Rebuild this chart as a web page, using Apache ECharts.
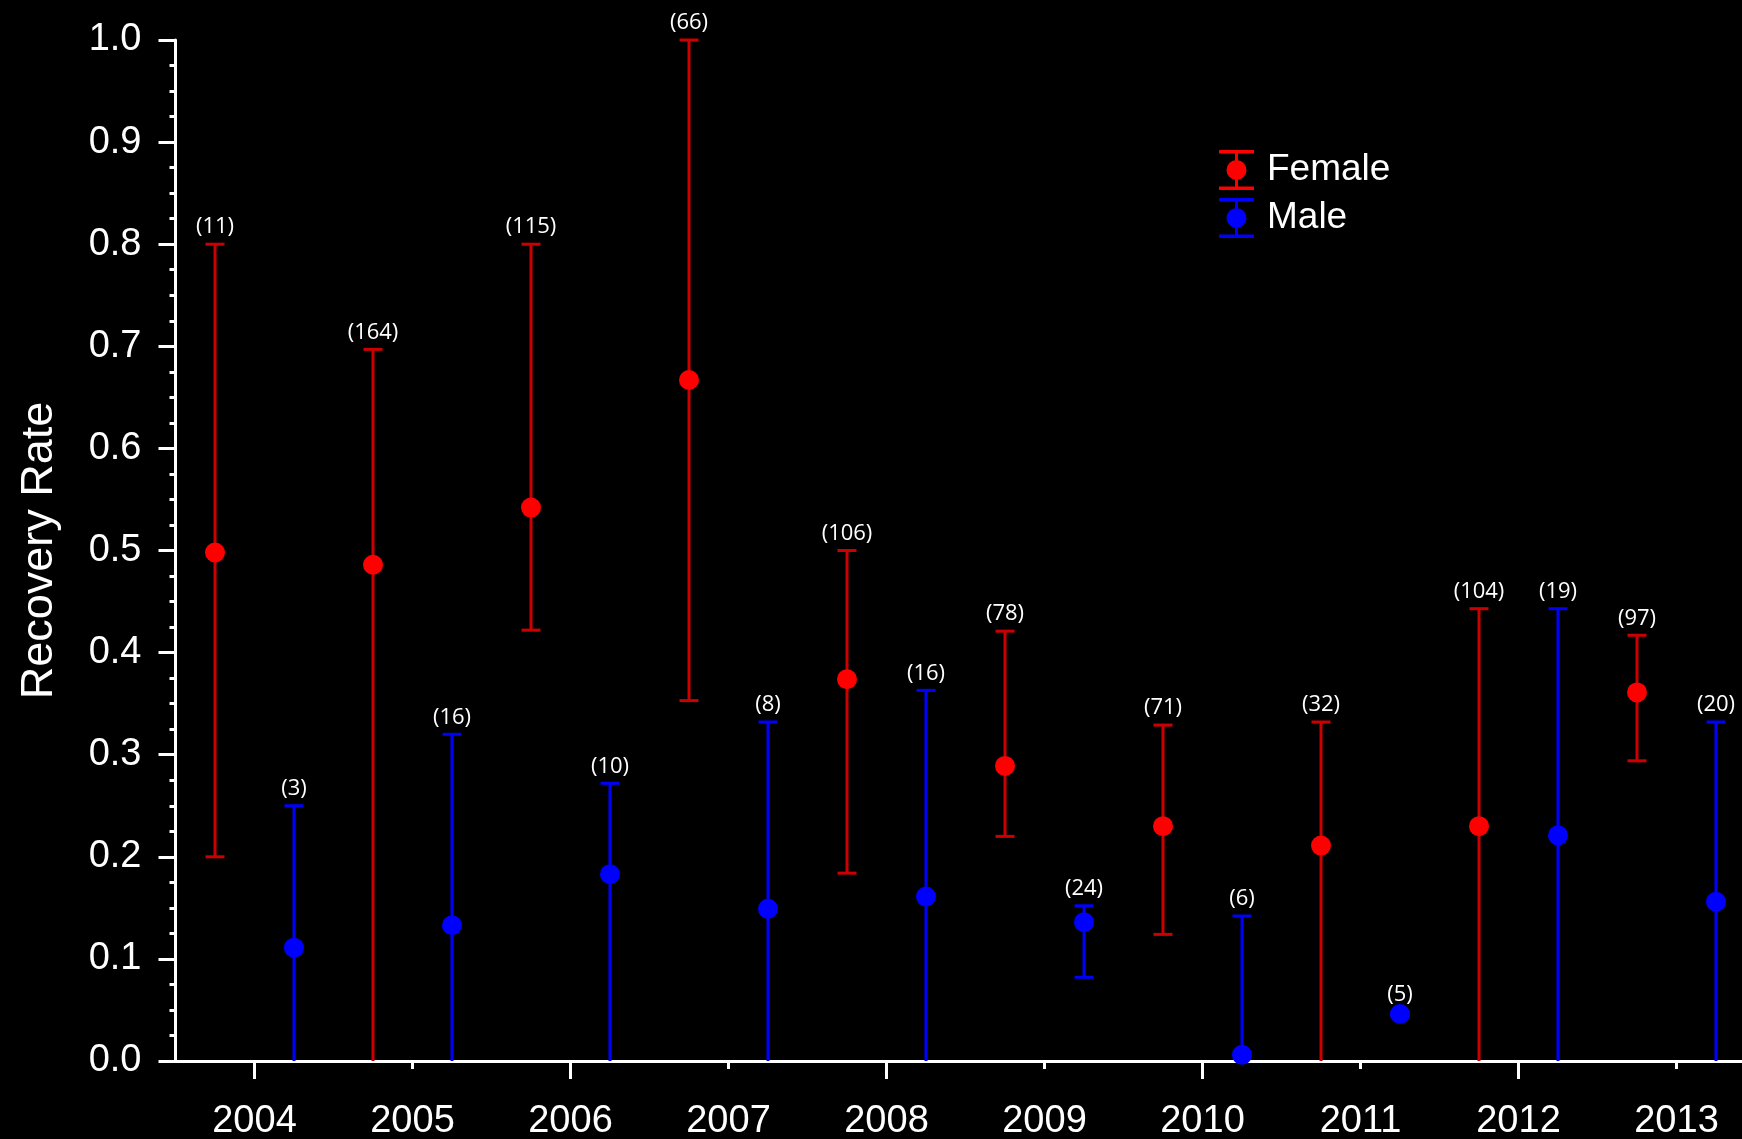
<!DOCTYPE html>
<html>
<head>
<meta charset="utf-8">
<style>
html,body{margin:0;padding:0;background:#000;}
#chart{width:1742px;height:1139px;}
</style>
<script src="https://cdn.jsdelivr.net/npm/echarts@6/dist/echarts.min.js"></script>
</head>
<body>
<div id="chart"></div>
<script>
// ---- data ----
var years = ['2004','2005','2006','2007','2008','2009','2010','2011','2012','2013'];
var femaleRate = [0.498, 0.486, 0.542, 0.667, 0.374, 0.289, 0.230, 0.211, 0.230, 0.361];
var femaleLow  = [0.200, 0.000, 0.422, 0.353, 0.184, 0.220, 0.124, 0.000, 0.000, 0.294];
var femaleHigh = [0.800, 0.697, 0.800, 1.000, 0.500, 0.421, 0.329, 0.332, 0.443, 0.417];
var femaleN    = [11, 164, 115, 66, 106, 78, 71, 32, 104, 97];
var maleRate = [0.111, 0.133, 0.183, 0.149, 0.161, 0.136, 0.006, 0.046, 0.221, 0.156];
var maleLow  = [0.000, 0.000, 0.000, 0.000, 0.000, 0.082, 0.000, 0.044, 0.000, 0.000];
var maleHigh = [0.250, 0.320, 0.272, 0.332, 0.363, 0.152, 0.142, 0.048, 0.443, 0.332];
var maleN    = [3, 16, 10, 8, 16, 24, 6, 5, 19, 20];
var yTicks = [0, 0.1, 0.2, 0.3, 0.4, 0.5, 0.6, 0.7, 0.8, 0.9, 1.0];

var FEMALE_OFFSET = -0.25, MALE_OFFSET = 0.25;

function build(rate, low, high, n, off) {
  var pts = [], bars = [];
  for (var i = 0; i < years.length; i++) {
    var x = Number(years[i]) + off;
    pts.push([x, rate[i]]);
    bars.push([x, low[i], high[i], n[i]]);
  }
  return {pts: pts, bars: bars};
}
var F = build(femaleRate, femaleLow, femaleHigh, femaleN, FEMALE_OFFSET);
var M = build(maleRate, maleLow, maleHigh, maleN, MALE_OFFSET);

function errRender(color) {
  return function (params, api) {
    var x = api.value(0), lo = api.value(1), hi = api.value(2), n = api.value(3);
    var pLo = api.coord([x, lo]), pHi = api.coord([x, hi]);
    var cw = 9.5;
    var st = {stroke: color, lineWidth: 3};
    var children = [
      {type: 'line', shape: {x1: pHi[0], y1: pHi[1], x2: pLo[0], y2: pLo[1]}, style: st},
      {type: 'line', shape: {x1: pHi[0] - cw, y1: pHi[1], x2: pHi[0] + cw, y2: pHi[1]}, style: st}
    ];
    if (lo > 0) {
      children.push({type: 'line', shape: {x1: pLo[0] - cw, y1: pLo[1], x2: pLo[0] + cw, y2: pLo[1]}, style: st});
    }
    children.push({
      type: 'text',
      style: {
        text: '(' + n + ')', x: pHi[0], y: pHi[1] - 17,
        align: 'center', verticalAlign: 'middle',
        fill: '#ffffff', fontSize: 22, fontFamily: 'Open Sans'
      }
    });
    return {type: 'group', children: children};
  };
}

var iconPath = 'path://M0,0H35V3.5H0Z M16,0H19V40H16Z M0,36.5H35V40H0Z M27.5,20A10,10,0,1,1,7.5,20A10,10,0,1,1,27.5,20Z';

var chart = echarts.init(document.getElementById('chart'));
chart.setOption({
  backgroundColor: '#000000',
  animation: false,
  textStyle: {fontFamily: 'Liberation Sans'},
  grid: {left: 175.5, top: 40, bottom: 78, width: 1580, containLabel: false, outerBoundsMode: 'none'},
  legend: {
    orient: 'vertical', left: 1214, top: 145,
    itemWidth: 35, itemHeight: 40, itemGap: 8,
    data: [{name: 'Female', icon: iconPath}, {name: 'Male', icon: iconPath}],
    textStyle: {color: '#ffffff', fontSize: 37, fontFamily: 'Liberation Sans', padding: [0, 0, 0, 8]}
  },
  xAxis: [
    {type: 'value', min: 2003.5, max: 2013.5, show: false},
    {
      type: 'category', data: years, boundaryGap: true, position: 'bottom',
      axisLine: {show: true, lineStyle: {color: '#ffffff', width: 3}},
      axisTick: {show: true, alignWithLabel: true, length: 8, lineStyle: {color: '#ffffff', width: 3}},
      axisLabel: {color: '#ffffff', fontSize: 38, margin: 42, fontFamily: 'Liberation Sans'},
      splitLine: {show: false}
    },
    {
      type: 'category', data: years, boundaryGap: true, position: 'bottom',
      axisLine: {show: false},
      axisTick: {show: true, alignWithLabel: true, length: 18,
        interval: function (i) { return i % 2 === 0; },
        lineStyle: {color: '#ffffff', width: 3}},
      axisLabel: {show: false},
      splitLine: {show: false}
    }
  ],
  yAxis: {
    type: 'value', min: yTicks[0], max: yTicks[yTicks.length - 1], interval: 0.1,
    name: 'Recovery Rate', nameLocation: 'middle', nameGap: 113,
    nameTextStyle: {color: '#ffffff', fontSize: 45, fontFamily: 'Liberation Sans'},
    axisLine: {show: true, lineStyle: {color: '#ffffff', width: 3}},
    axisTick: {show: true, length: 17, lineStyle: {color: '#ffffff', width: 3}},
    minorTick: {show: true, splitNumber: 4, length: 6, lineStyle: {color: '#ffffff', width: 3}},
    axisLabel: {color: '#ffffff', fontSize: 38, margin: 34, fontFamily: 'Liberation Sans',
      formatter: function (v) { return v.toFixed(1); }},
    splitLine: {show: false}
  },
  series: [
    {type: 'custom', name: 'FemaleErr', xAxisIndex: 0, renderItem: errRender('#cc0000'), data: F.bars, z: 3, clip: false},
    {type: 'custom', name: 'MaleErr', xAxisIndex: 0, renderItem: errRender('#0000ff'), data: M.bars, z: 3, clip: false},
    {type: 'scatter', name: 'Female', xAxisIndex: 0, data: F.pts, symbol: 'circle', symbolSize: 20,
      itemStyle: {color: '#ff0000', opacity: 1}, z: 5},
    {type: 'scatter', name: 'Male', xAxisIndex: 0, data: M.pts, symbol: 'circle', symbolSize: 20,
      itemStyle: {color: '#0000ff', opacity: 1}, z: 5}
  ]
});
</script>
</body>
</html>
